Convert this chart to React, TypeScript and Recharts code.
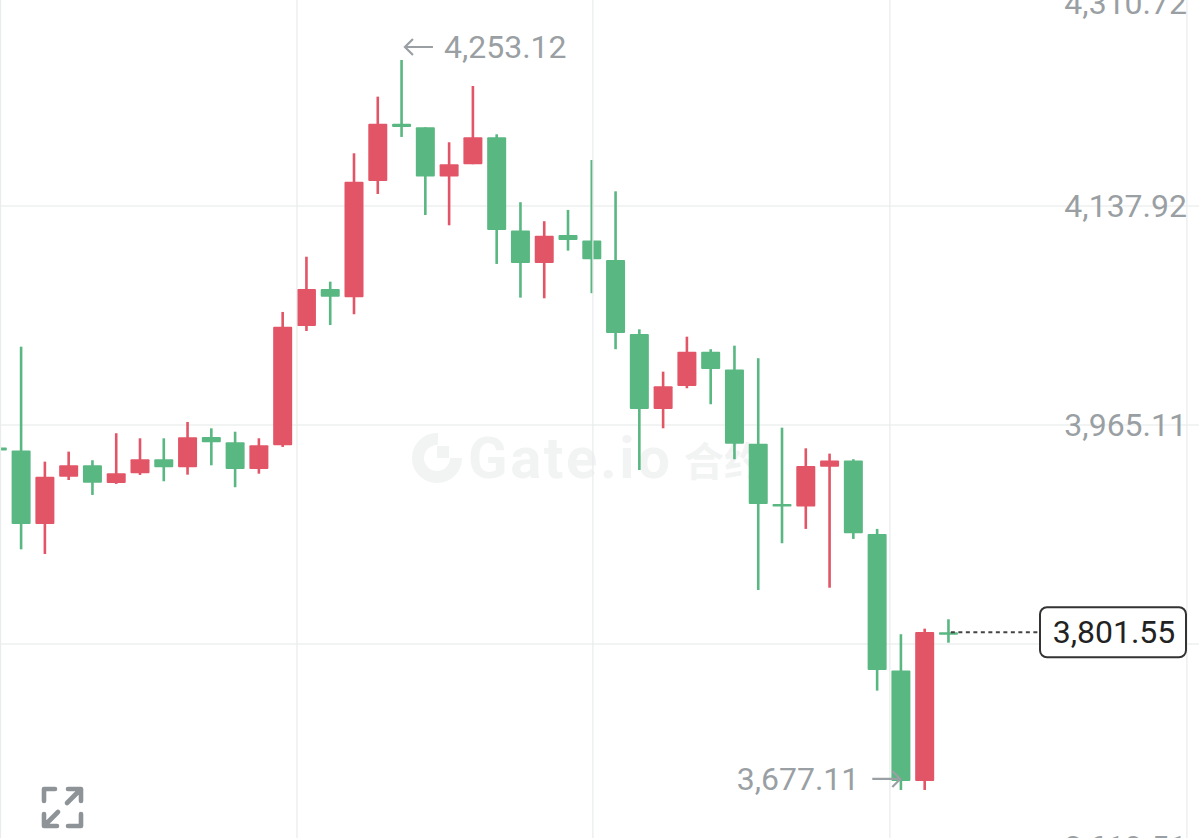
import React from 'react';
import { Bar, CartesianGrid, ComposedChart, ReferenceDot, ReferenceLine, XAxis, YAxis } from 'recharts';

const FONT = 'Roboto, sans-serif';
const GREEN = '#59b782';
const RED = '#e25566';
const LABEL_GRAY = '#9a9fa4';
const LABEL_SIZE = 32;

// candle slots, -1 is the one cut off at the left edge
const slots = [
  -1, 0, 1, 2, 3, 4, 5, 6, 7, 8, 9, 10, 11, 12, 13, 14, 15, 16, 17, 18, 19,
  20, 21, 22, 23, 24, 25, 26, 27, 28, 29, 30, 31, 32, 33, 34, 35, 36, 37, 38, 39,
];

const opens = [
  3947.4, 3944.9, 3887.0, 3924.3, 3933.3, 3919.4, 3927.0, 3938.1, 3931.8, 3955.7, 3951.5,
  3930.4, 3949.1, 4043.3, 4072.5, 4065.9, 4157.7, 4202.9, 4200.0, 4161.1, 4170.9,
  4192.2, 4118.5, 4093.0, 4115.1, 4110.6, 4095.3, 4036.9, 3977.8, 3995.9, 4023.0,
  4008.8, 3950.4, 3902.8, 3900.7, 3932.2, 3937.0, 3879.1, 3771.3, 3684.2, 3801.55,
];
const closes = [
  3945.0, 3887.0, 3924.3, 3933.3, 3919.6, 3927.0, 3938.1, 3931.8, 3955.4, 3951.5, 3930.4,
  3949.1, 4042.7, 4072.5, 4066.4, 4157.1, 4202.9, 4200.3, 4161.1, 4170.9, 4192.2,
  4119.0, 4093.0, 4114.5, 4111.1, 4095.9, 4037.7, 3977.8, 3995.7, 4023.0, 4009.3,
  3950.4, 3902.8, 3900.7, 3932.8, 3937.0, 3879.7, 3771.8, 3684.2, 3801.8, 3800.3,
];
const highs = [
  3948.0, 4026.9, 3936.2, 3944.1, 3937.3, 3958.6, 3954.6, 3954.6, 3967.5, 3962.5, 3959.8,
  3954.6, 4054.3, 4097.9, 4078.2, 4179.5, 4224.2, 4253.12, 4200.0, 4188.2, 4232.6,
  4194.5, 4140.9, 4125.9, 4134.8, 4174.2, 4149.5, 4040.6, 4007.2, 4034.8, 4024.9,
  4027.7, 4017.8, 3963.0, 3946.7, 3942.5, 3938.1, 3883.1, 3800.0, 3804.4, 3811.8,
];
const lows = [
  3944.6, 3867.0, 3863.3, 3921.7, 3909.9, 3918.6, 3925.7, 3920.7, 3925.9, 3933.3, 3916.0,
  3926.7, 3947.8, 4039.3, 4044.0, 4052.5, 4147.4, 4192.4, 4130.8, 4122.7, 4170.9,
  4092.2, 4065.6, 4065.1, 4102.7, 4069.1, 4024.9, 3929.6, 3962.5, 3994.1, 3981.5,
  3938.1, 3834.9, 3871.8, 3883.1, 3836.7, 3875.2, 3755.5, 3677.11, 3677.11, 3793.3,
];

const priceTicks = [4310.72, 4137.92, 3965.11, 3792.3, 3619.51];
const timeTicks = [-0.883, 11.585, 24.03, 36.52, 49.01];

// this tick only keeps its grid line, the last price box sits on its label
const COVERED_TICK = 3792.3;

const HIGH_PRICE = 4253.12;
const HIGH_SLOT = 16;
const LOW_PRICE = 3677.11;
const LOW_SLOT = 37;
const LAST_PRICE = 3801.55;
const LAST_SLOT = 39;

const candles = slots.map((slot, i) => ({
  slot,
  open: opens[i],
  close: closes[i],
  high: highs[i],
  low: lows[i],
  range: [lows[i], highs[i]],
}));

const fmt = (v: number) =>
  v.toLocaleString('en-US', { minimumFractionDigits: 2, maximumFractionDigits: 2 });

function Candle(props: any) {
  const { x, y, width, height, payload } = props;
  const { open, close, high, low } = payload;
  const perUnit = height / (high - low);
  const top = y + (high - Math.max(open, close)) * perUnit;
  const bodyHeight = Math.max(Math.abs(open - close) * perUnit, 2.5);
  const color = close >= open ? RED : GREEN;
  const mid = x + width / 2;
  return (
    <g>
      <rect x={mid - 1.3} y={y} width={2.6} height={height} fill={color} />
      <rect x={x} y={top} width={width} height={bodyHeight} rx={1} fill={color} />
    </g>
  );
}

function PriceTick(props: any) {
  const { y, payload } = props;
  if (payload.value === COVERED_TICK) return <g />;
  // the outermost labels get pushed back inside the frame
  const shown = Math.min(Math.max(y - 30, 3), 847) + 30;
  return (
    <text
      x={1187}
      y={shown}
      dy={11}
      textAnchor="end"
      fontFamily={FONT}
      fontSize={LABEL_SIZE}
      fill={LABEL_GRAY}
    >
      {fmt(payload.value)}
    </text>
  );
}

function HighMark({ cx, cy }: any) {
  return (
    <g>
      <path
        d={`M${cx + 31} ${cy - 13}H${cx + 3}M${cx + 11} ${cy - 21}L${cx + 3} ${cy - 13}L${cx + 11} ${cy - 5}`}
        fill="none"
        stroke={LABEL_GRAY}
        strokeWidth={2.2}
      />
      <text x={cx + 42} y={cy - 2} fontFamily={FONT} fontSize={LABEL_SIZE} fill={LABEL_GRAY}>
        {fmt(HIGH_PRICE)}
      </text>
    </g>
  );
}

function LowMark({ cx, cy }: any) {
  return (
    <g>
      <path
        d={`M${cx - 29} ${cy - 11}H${cx - 1}M${cx - 9} ${cy - 19}L${cx - 1} ${cy - 11}L${cx - 9} ${cy - 3}`}
        fill="none"
        stroke={LABEL_GRAY}
        strokeWidth={2.2}
      />
      <text x={cx - 42} y={cy} textAnchor="end" fontFamily={FONT} fontSize={LABEL_SIZE} fill={LABEL_GRAY}>
        {fmt(LOW_PRICE)}
      </text>
    </g>
  );
}

function LastMark({ cx, cy }: any) {
  return (
    <g>
      <path d={`M${cx + 2} ${cy}H1040`} stroke="#444" strokeWidth={2} strokeDasharray="4 3.5" fill="none" />
      <rect x={1040} y={cy - 25} width={146} height={50} rx={7} fill="#fff" stroke="#333" strokeWidth={2} />
      <text x={1114} y={cy + 11} textAnchor="middle" fontFamily={FONT} fontSize={LABEL_SIZE} fill="#222">
        {fmt(LAST_PRICE)}
      </text>
    </g>
  );
}

function Watermark() {
  return (
    <svg width={1199} height={838} style={{ position: 'absolute', left: 0, top: 0 }}>
      <circle cx={437} cy={458} r={19} fill="none" stroke="#f2f3f3" strokeWidth={12} strokeDasharray="90 30" />
      <rect x={437} y={446} width={12} height={12} fill="#f2f3f3" />
      <text x={468} y={478} fontFamily={FONT} fontSize={58} fontWeight={700} letterSpacing={2.6} fill="#f2f3f3">
        Gate.io
      </text>
      <text x={684} y={476} fontFamily='"Noto Sans CJK SC"' fontSize={40} fontWeight={700} fill="#f2f3f3">
        合约
      </text>
    </svg>
  );
}

function ExpandIcon() {
  return (
    <svg width={1199} height={838} style={{ position: 'absolute', left: 0, top: 0 }}>
      <path
        d="M44 801V789H55M68 789H81V801M80 790L67 803M44 814V826H57M45 825L58 812M68 826H81V814"
        fill="none"
        stroke="#8e9398"
        strokeWidth={4.6}
        strokeLinecap="round"
        strokeLinejoin="round"
      />
    </svg>
  );
}

export default function App() {
  return (
    <div
      style={{
        position: 'absolute',
        left: 0,
        top: 0,
        width: 1199,
        height: 838,
        overflow: 'hidden',
        background: '#fff',
      }}
    >
      <Watermark />
      <div style={{ position: 'absolute', left: 0, top: -30 }}>
        <ComposedChart
          width={1199}
          height={910}
          data={candles}
          margin={{ top: 0, right: 0, bottom: 0, left: 0 }}
        >
          <CartesianGrid vertical={false} stroke="#eef0f1" strokeWidth={1.6} />
          {timeTicks.map((t) => (
            <ReferenceLine key={t} x={t} stroke="#e9ebec" strokeWidth={1.2} ifOverflow="visible" />
          ))}
          <XAxis
            dataKey="slot"
            type="number"
            domain={[-0.904, 49.52]}
            ticks={timeTicks}
            interval={0}
            tick={false}
            axisLine={false}
            tickLine={false}
            mirror
            height={1}
            allowDataOverflow
          />
          <YAxis
            type="number"
            orientation="right"
            mirror
            width={150}
            domain={[3606.06, 4324.14]}
            ticks={priceTicks}
            interval={0}
            tick={<PriceTick />}
            axisLine={false}
            tickLine={false}
          />
          <Bar dataKey="range" barSize={19} shape={<Candle />} isAnimationActive={false} />
          <ReferenceDot x={HIGH_SLOT} y={HIGH_PRICE} ifOverflow="visible" shape={<HighMark />} />
          <ReferenceDot x={LOW_SLOT} y={LOW_PRICE} ifOverflow="visible" shape={<LowMark />} />
          <ReferenceDot x={LAST_SLOT} y={LAST_PRICE} ifOverflow="visible" shape={<LastMark />} />
        </ComposedChart>
      </div>
      <ExpandIcon />
    </div>
  );
}
